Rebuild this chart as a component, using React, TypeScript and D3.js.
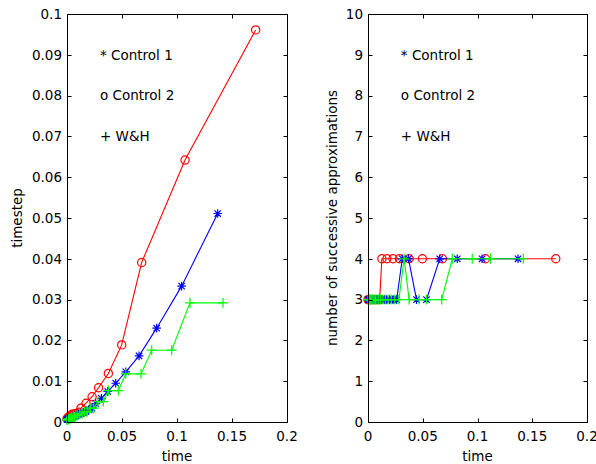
import React from "react";
import * as d3 from "d3";

// ---- data ----
// Control 2 (red, circles)
const redT = [0, 0.0008, 0.0018, 0.0031, 0.0047, 0.0066, 0.0086, 0.0106, 0.0127, 0.0173, 0.0228, 0.0287, 0.0376, 0.0497, 0.0679, 0.1073, 0.1715];
const redH = [0.0008, 0.0010, 0.0013, 0.0016, 0.0019, 0.0020, 0.0021, 0.0024, 0.0034, 0.0046, 0.0062, 0.0084, 0.0119, 0.0189, 0.0391, 0.0642, 0.0961];
const redN = [3, 3, 3, 3, 3, 3, 3, 3, 4, 4, 4, 4, 4, 4, 4, 4, 4];

// Control 1 (blue, asterisks)
const blueT = [0, 0.0006, 0.0013, 0.0021, 0.0030, 0.0040, 0.0051, 0.0063, 0.0077, 0.0092, 0.0109, 0.0128, 0.0149, 0.0172, 0.0198, 0.0228, 0.0262, 0.0313, 0.0370, 0.0443, 0.0534, 0.0655, 0.0815, 0.1042, 0.1370];
const blueH = [0.0006, 0.0007, 0.0008, 0.0009, 0.0010, 0.0011, 0.0012, 0.0014, 0.0015, 0.0017, 0.0019, 0.0021, 0.0023, 0.0026, 0.0030, 0.0034, 0.0045, 0.0058, 0.0075, 0.0095, 0.0123, 0.0162, 0.0230, 0.0333, 0.0511];
const blueN = [3, 3, 3, 3, 3, 3, 3, 3, 3, 3, 3, 3, 3, 3, 3, 3, 3, 4, 4, 3, 3, 4, 4, 4, 4];

// W&H (green, plus)
const greenT = [0, 0.0005, 0.0011, 0.0018, 0.0026, 0.0035, 0.0045, 0.0056, 0.0068, 0.0082, 0.0098, 0.0116, 0.0136, 0.0158, 0.0183, 0.0212, 0.0244, 0.0282, 0.0330, 0.0376, 0.0467, 0.0534, 0.0673, 0.0770, 0.0952, 0.1118, 0.1418];
const greenH = [0.0005, 0.0006, 0.0006, 0.0008, 0.0008, 0.0010, 0.0010, 0.0012, 0.0012, 0.0016, 0.0016, 0.0020, 0.0020, 0.0025, 0.0025, 0.0034, 0.0034, 0.0050, 0.0050, 0.0077, 0.0077, 0.0118, 0.0118, 0.0176, 0.0176, 0.0292, 0.0292];
const greenN = [3, 3, 3, 3, 3, 3, 3, 3, 3, 3, 3, 3, 3, 3, 3, 3, 3, 3, 4, 3, 3, 3, 3, 4, 4, 4, 4];

const xTicks = [0, 0.05, 0.1, 0.15, 0.2];
const xTickLabels = ["0", "0.05", "0.1", "0.15", "0.2"];
const leftYTicks = [0, 0.01, 0.02, 0.03, 0.04, 0.05, 0.06, 0.07, 0.08, 0.09, 0.1];
const leftYTickLabels = ["0", "0.01", "0.02", "0.03", "0.04", "0.05", "0.06", "0.07", "0.08", "0.09", "0.1"];
const rightYTicks = [0, 1, 2, 3, 4, 5, 6, 7, 8, 9, 10];
const rightYTickLabels = ["0", "1", "2", "3", "4", "5", "6", "7", "8", "9", "10"];
const legendLines = ["* Control 1", "o Control 2", "+ W&H"];
const leftLegendY = [0.09, 0.08, 0.07];
const rightLegendY = [9, 8, 7];
const legendX = 0.03;

const FONT = "'DejaVu Sans', sans-serif";

type Marker = "circle" | "star" | "plus";

function MarkerShape({ kind, x, y, color }: { kind: Marker; x: number; y: number; color: string }) {
  if (kind === "circle") {
    return <circle cx={x} cy={y} r={4.1} fill="none" stroke={color} strokeWidth={1.2} />;
  }
  const s = kind === "plus" ? 5 : 4.3;
  const d = 3.2;
  let path = `M${x - s},${y}H${x + s}M${x},${y - s}V${y + s}`;
  if (kind === "star") {
    path += `M${x - d},${y - d}L${x + d},${y + d}M${x - d},${y + d}L${x + d},${y - d}`;
  }
  return <path d={path} fill="none" stroke={color} strokeWidth={1.2} />;
}

interface Series {
  xs: number[];
  ys: number[];
  color: string;
  marker: Marker;
}

function Panel({
  x0, x1, y0, y1, yDomain, yTicks, yTickLabels, yLabel, yLabelX, series, legendYs,
}: {
  x0: number; x1: number; y0: number; y1: number;
  yDomain: [number, number]; yTicks: number[]; yTickLabels: string[];
  yLabel: string; yLabelX: number; series: Series[]; legendYs: number[];
}) {
  const x = d3.scaleLinear().domain([0, 0.2]).range([x0, x1]);
  const y = d3.scaleLinear().domain(yDomain).range([y1, y0]);
  const tl = 4;
  const line = d3.line<[number, number]>().x((d) => x(d[0])).y((d) => y(d[1]));
  return (
    <g>
      {series.map((s, i) => {
        const pts: [number, number][] = s.xs.map((v, j) => [v, s.ys[j]]);
        return (
          <g key={i}>
            <path d={line(pts) || ""} fill="none" stroke={s.color} strokeWidth={1.1} />
            {pts.map((p, j) => (
              <MarkerShape key={j} kind={s.marker} x={x(p[0])} y={y(p[1])} color={s.color} />
            ))}
          </g>
        );
      })}
      <rect x={x0 + 0.5} y={y0 + 0.5} width={x1 - x0} height={y1 - y0} fill="none" stroke="#000" strokeWidth={1} />
      {xTicks.map((t, i) => {
        const px = Math.round(x(t)) + 0.5;
        return (
          <g key={"xt" + i}>
            <line x1={px} x2={px} y1={y1 + 0.5} y2={y1 + 0.5 - tl} stroke="#000" />
            <line x1={px} x2={px} y1={y0 + 0.5} y2={y0 + 0.5 + tl} stroke="#000" />
            <text x={x(t)} y={441} textAnchor="middle" fontFamily={FONT} fontSize={13.5} fill="#000">
              {xTickLabels[i]}
            </text>
          </g>
        );
      })}
      {yTicks.map((t, i) => {
        const py = Math.round(y(t)) + 0.5;
        return (
          <g key={"yt" + i}>
            <line x1={x0 + 0.5} x2={x0 + 0.5 + tl} y1={py} y2={py} stroke="#000" />
            <line x1={x1 + 0.5} x2={x1 + 0.5 - tl} y1={py} y2={py} stroke="#000" />
            <text x={x0 - 5} y={y(t)} dy="0.36em" textAnchor="end" fontFamily={FONT} fontSize={13.5} fill="#000">
              {yTickLabels[i]}
            </text>
          </g>
        );
      })}
      <text x={(x0 + x1) / 2} y={461} textAnchor="middle" fontFamily={FONT} fontSize={13.5} fill="#000">
        time
      </text>
      <text
        transform={`translate(${yLabelX},${(y0 + y1) / 2}) rotate(-90)`}
        textAnchor="middle"
        fontFamily={FONT}
        fontSize={13.5}
        fill="#000"
      >
        {yLabel}
      </text>
      {legendLines.map((l, i) => (
        <text key={"lg" + i} x={x(legendX)} y={y(legendYs[i])} dy="0.36em" fontFamily={FONT} fontSize={13.5} fill="#000">
          {l}
        </text>
      ))}
    </g>
  );
}

export default function App() {
  const leftSeries: Series[] = [
    { xs: redT, ys: redH, color: "#ff0000", marker: "circle" },
    { xs: blueT, ys: blueH, color: "#0000ff", marker: "star" },
    { xs: greenT, ys: greenH, color: "#00ff00", marker: "plus" },
  ];
  const rightSeries: Series[] = [
    { xs: redT, ys: redN, color: "#ff0000", marker: "circle" },
    { xs: blueT, ys: blueN, color: "#0000ff", marker: "star" },
    { xs: greenT, ys: greenN, color: "#00ff00", marker: "plus" },
  ];
  return (
    <svg
      width={596}
      height={464}
      style={{ position: "absolute", left: 0, top: 0, background: "#fff" }}
    >
      <rect x={0} y={0} width={596} height={464} fill="#fff" />
      <Panel
        x0={67} x1={287} y0={14} y1={422}
        yDomain={[0, 0.1]} yTicks={leftYTicks} yTickLabels={leftYTickLabels}
        yLabel="timestep" yLabelX={22} series={leftSeries} legendYs={leftLegendY}
      />
      <Panel
        x0={368} x1={587} y0={14} y1={422}
        yDomain={[0, 10]} yTicks={rightYTicks} yTickLabels={rightYTickLabels}
        yLabel="number of successive approximations" yLabelX={337} series={rightSeries} legendYs={rightLegendY}
      />
    </svg>
  );
}
